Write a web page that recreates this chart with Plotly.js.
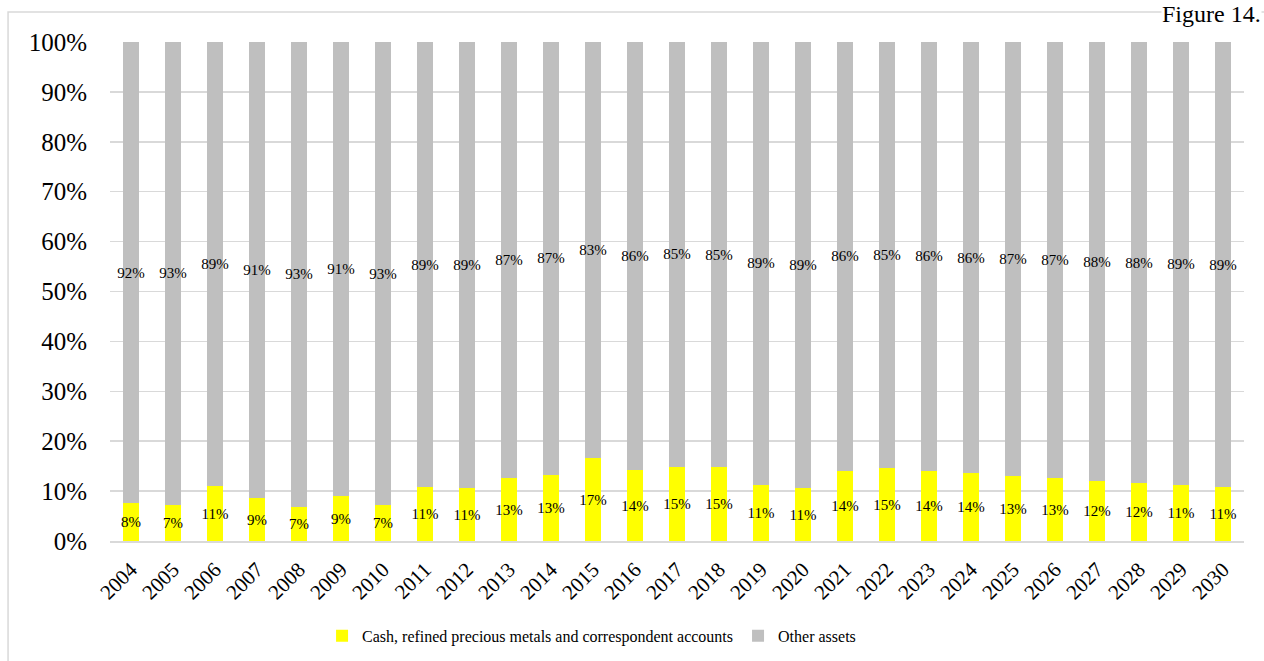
<!DOCTYPE html>
<html>
<head>
<meta charset="utf-8">
<script src="https://cdn.plot.ly/plotly-3.0.1.min.js"></script>
<style>
  html, body { margin: 0; padding: 0; background: #ffffff; overflow: hidden; }
  #chart { width: 1264px; height: 661px; }
</style>
</head>
<body>
<div id="chart"></div>
<script>
// ---- Data ----
const years = ["2004","2005","2006","2007","2008","2009","2010","2011","2012","2013","2014","2015","2016","2017","2018","2019","2020","2021","2022","2023","2024","2025","2026","2027","2028","2029","2030"];
const cashShare = [7.6, 7.3, 11.0, 8.6, 6.9, 9.0, 7.2, 10.8, 10.6, 12.6, 13.3, 16.6, 14.2, 14.9, 14.8, 11.3, 10.6, 14.1, 14.6, 14.1, 13.6, 13.0, 12.6, 12.0, 11.6, 11.2, 10.8];
const otherShare = [92.4, 92.7, 89.0, 91.4, 93.1, 91.0, 92.8, 89.2, 89.4, 87.4, 86.7, 83.4, 85.8, 85.1, 85.2, 88.7, 89.4, 85.9, 85.4, 85.9, 86.4, 87.0, 87.4, 88.0, 88.4, 88.8, 89.2];
const seriesNames = ["Cash, refined precious metals and correspondent accounts", "Other assets"];
const figureLabel = "Figure 14.";

const FONT = "'Liberation Serif', 'Times New Roman', serif";

const common = {
  type: 'bar',
  x: years,
  texttemplate: '%{y:.0f}%',
  textposition: 'inside',
  insidetextanchor: 'middle',
  constraintext: 'none',
  textangle: 0,
  textfont: { family: FONT, size: 15, color: '#000000' },
  hoverinfo: 'x+y+name'
};

const data = [
  Object.assign({}, common, {
    name: seriesNames[0],
    y: cashShare,
    marker: { color: '#ffff00' }
  }),
  Object.assign({}, common, {
    name: seriesNames[1],
    y: otherShare,
    marker: { color: '#bfbfbf' }
  })
];

const layout = {
  width: 1264,
  height: 661,
  margin: { l: 110, r: 20, t: 42, b: 120, pad: 0, autoexpand: false },
  paper_bgcolor: '#ffffff',
  plot_bgcolor: '#ffffff',
  barmode: 'stack',
  bargap: 0.6,
  showlegend: true,
  font: { family: FONT, color: '#000000' },
  xaxis: {
    type: 'category',
    tickangle: -45,
    tickfont: { family: FONT, size: 21, color: '#000000' },
    showgrid: false,
    showline: true,
    linecolor: '#d9d9d9',
    linewidth: 2,
    ticks: '',
    ticklabelstandoff: 6,
    zeroline: false,
    automargin: false
  },
  yaxis: {
    range: [0, 100],
    dtick: 10,
    tick0: 0,
    ticksuffix: '%',
    tickfont: { family: FONT, size: 25, color: '#000000' },
    showgrid: true,
    gridcolor: '#d9d9d9',
    gridwidth: 1.5,
    zeroline: false,
    showline: false,
    ticks: '',
    ticklabelstandoff: 22,
    automargin: false,
    fixedrange: true
  },
  legend: {
    orientation: 'h',
    x: 0.187,
    xanchor: 'left',
    y: -0.19,
    yanchor: 'middle',
    font: { family: FONT, size: 16, color: '#000000' },
    bgcolor: 'rgba(0,0,0,0)',
    traceorder: 'normal'
  },
  shapes: [
    {
      type: 'rect', xref: 'paper', yref: 'paper',
      x0: -0.0899, x1: 1.03, y0: -0.27, y1: 1.0601,
      line: { color: '#d9d9d9', width: 1.5 },
      fillcolor: 'rgba(0,0,0,0)',
      layer: 'below'
    }
  ],
  annotations: [
    {
      text: figureLabel,
      xref: 'paper', yref: 'paper',
      x: 1.0159, xanchor: 'right',
      y: 1.0842, yanchor: 'top',
      showarrow: false,
      bgcolor: '#ffffff',
      borderpad: 0,
      font: { family: FONT, size: 24, color: '#000000' }
    }
  ]
};

Plotly.newPlot('chart', data, layout, { displayModeBar: false, staticPlot: true });
</script>
</body>
</html>
